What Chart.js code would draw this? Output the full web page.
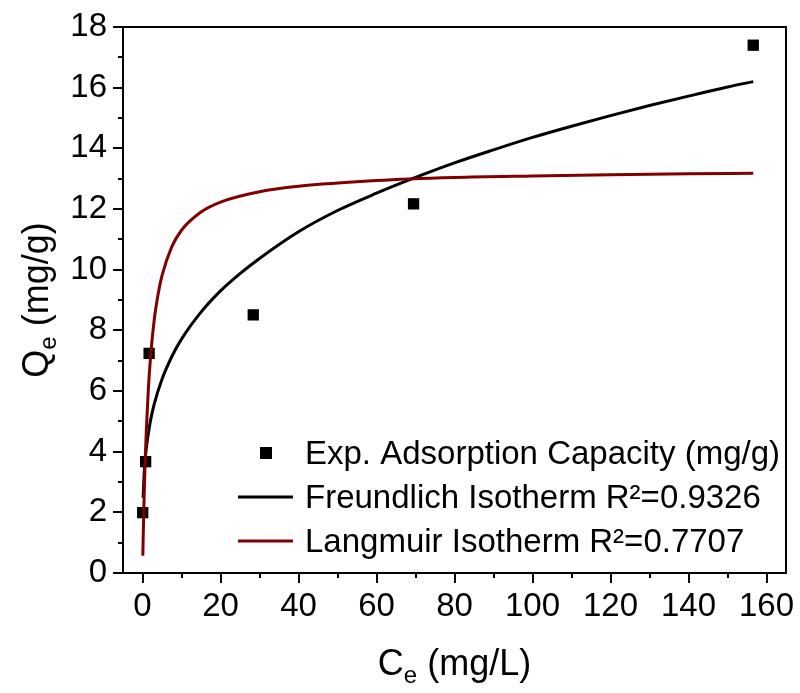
<!DOCTYPE html>
<html>
<head>
<meta charset="utf-8">
<script src="https://cdn.jsdelivr.net/npm/chart.js@4"></script>
<style>
  html, body { margin: 0; padding: 0; background: #fff; }
  #wrap { width: 800px; height: 693px; }
</style>
</head>
<body>
<div id="wrap"><canvas id="chart" width="800" height="693"></canvas></div>
<script>
// Experimental points
const expC = [0.05, 0.8, 1.7, 28.4, 69.5, 156.6];
const expQ = [1.99, 3.67, 7.24, 8.51, 12.17, 17.40];

// Freundlich fit curve
const freundC = [0.15, 0.5, 1, 2, 3, 5, 7.5, 10, 15, 20, 25, 30, 40, 50, 60, 70, 80, 90, 100, 110, 120, 130, 140, 150, 156.6];
const freundQ = [2.48, 3.43, 4.14, 4.99, 5.57, 6.39, 7.13, 7.71, 8.60, 9.30, 9.87, 10.37, 11.25, 11.95, 12.52, 13.04, 13.52, 13.95, 14.36, 14.73, 15.08, 15.41, 15.72, 16.02, 16.20];

// Langmuir fit curve
const langC = [0.08, 0.3, 0.5, 0.75, 1, 1.5, 2, 3, 4, 5, 7.5, 10, 15, 20, 30, 40, 60, 80, 100, 120, 140, 156.6];
const langQ = [0.57, 1.90, 2.89, 3.92, 4.76, 6.06, 7.01, 8.34, 9.19, 9.80, 10.75, 11.30, 11.90, 12.23, 12.57, 12.75, 12.94, 13.04, 13.09, 13.13, 13.16, 13.18];

// Ticks
const xTicks = [0, 20, 40, 60, 80, 100, 120, 140, 160];
const xMinorTicks = [10, 30, 50, 70, 90, 110, 130, 150];
const yTicks = [0, 2, 4, 6, 8, 10, 12, 14, 16, 18];
const yMinorTicks = [1, 3, 5, 7, 9, 11, 13, 15, 17];

const labels = [
  "Exp. Adsorption Capacity (mg/g)",
  "Freundlich Isotherm R\u00B2=0.9326",
  "Langmuir Isotherm R\u00B2=0.7707",
];

const FONT = '"Liberation Sans", Arial, sans-serif';
const RED = "#800000";

const toXY = (xs, ys) => xs.map((x, i) => ({ x: x, y: ys[i] }));

// frame, minor ticks, axis titles, legend
const extras = {
  id: "extras",
  afterDraw(chart) {
    const ctx = chart.ctx;
    const area = chart.chartArea;
    const xs = chart.scales.x;
    const ys = chart.scales.y;
    ctx.save();
    ctx.strokeStyle = "#000";
    ctx.lineWidth = 2;
    ctx.strokeRect(area.left, area.top, area.right - area.left, area.bottom - area.top);

    // minor ticks
    ctx.beginPath();
    xMinorTicks.forEach((v) => {
      const px = Math.round(xs.getPixelForValue(v));
      ctx.moveTo(px, area.bottom);
      ctx.lineTo(px, area.bottom + 5);
    });
    yMinorTicks.forEach((v) => {
      const py = Math.round(ys.getPixelForValue(v));
      ctx.moveTo(area.left, py);
      ctx.lineTo(area.left - 5, py);
    });
    ctx.stroke();

    // axis titles with subscript
    const drawTitle = (main, sub, rest, cx, baseY) => {
      const big = "36px " + FONT;
      const small = "24px " + FONT;
      ctx.font = big;
      const w1 = ctx.measureText(main).width;
      const w3 = ctx.measureText(rest).width;
      ctx.font = small;
      const w2 = ctx.measureText(sub).width;
      let x = cx - (w1 + w2 + w3) / 2;
      ctx.fillStyle = "#000";
      ctx.textBaseline = "alphabetic";
      ctx.textAlign = "left";
      ctx.font = big;
      ctx.fillText(main, x, baseY);
      x += w1;
      ctx.font = small;
      ctx.fillText(sub, x, baseY + 8);
      x += w2;
      ctx.font = big;
      ctx.fillText(rest, x, baseY);
    };
    drawTitle("C", "e", " (mg/L)", (area.left + area.right) / 2, 675);
    ctx.save();
    ctx.translate(48, (area.top + area.bottom) / 2);
    ctx.rotate(-Math.PI / 2);
    drawTitle("Q", "e", " (mg/g)", 0, 0);
    ctx.restore();

    // legend
    ctx.font = "33px " + FONT;
    ctx.textBaseline = "middle";
    ctx.textAlign = "left";
    ctx.fillStyle = "#000";
    const rowY = [453, 497, 541];
    ctx.fillRect(260, rowY[0] - 6, 12, 12);
    ctx.lineWidth = 3;
    ctx.strokeStyle = "#000";
    ctx.beginPath();
    ctx.moveTo(238, rowY[1]);
    ctx.lineTo(293, rowY[1]);
    ctx.stroke();
    ctx.strokeStyle = RED;
    ctx.beginPath();
    ctx.moveTo(238, rowY[2]);
    ctx.lineTo(293, rowY[2]);
    ctx.stroke();
    labels.forEach((t, i) => ctx.fillText(t, 305, rowY[i] + 2));
    ctx.restore();
  },
};

const ctx = document.getElementById("chart").getContext("2d");
new Chart(ctx, {
  type: "scatter",
  data: {
    datasets: [
      {
        label: labels[0],
        data: toXY(expC, expQ),
        pointStyle: "rect",
        pointRadius: 8,
        pointBorderWidth: 0,
        backgroundColor: "#000",
        borderColor: "#000",
        order: 3,
      },
      {
        label: labels[1],
        data: toXY(freundC, freundQ),
        showLine: true,
        pointRadius: 0,
        borderColor: "#000",
        borderWidth: 3,
        cubicInterpolationMode: "monotone",
        order: 2,
      },
      {
        label: labels[2],
        data: toXY(langC, langQ),
        showLine: true,
        pointRadius: 0,
        borderColor: RED,
        borderWidth: 3,
        cubicInterpolationMode: "monotone",
        order: 1,
      },
    ],
  },
  options: {
    responsive: false,
    animation: false,
    layout: { padding: { top: 27, right: 14, left: 0, bottom: 0 } },
    plugins: { legend: { display: false }, tooltip: { enabled: false } },
    scales: {
      x: {
        type: "linear",
        min: -5,
        max: 165,
        afterBuildTicks: (s) => { s.ticks = xTicks.map((v) => ({ value: v })); },
        afterFit: (s) => { s.height = 120; },
        grid: { drawOnChartArea: false, color: "#000", lineWidth: 2, tickLength: 10 },
        border: { color: "#000", width: 2 },
        ticks: { color: "#000", font: { family: FONT, size: 33 }, padding: 4, maxRotation: 0 },
      },
      y: {
        type: "linear",
        min: 0,
        max: 18,
        afterBuildTicks: (s) => { s.ticks = yTicks.map((v) => ({ value: v })); },
        afterFit: (s) => { s.width = 123; },
        grid: { drawOnChartArea: false, color: "#000", lineWidth: 2, tickLength: 10 },
        border: { color: "#000", width: 2 },
        ticks: { color: "#000", font: { family: FONT, size: 33 }, padding: 6 },
      },
    },
  },
  plugins: [extras],
});
</script>
</body>
</html>
